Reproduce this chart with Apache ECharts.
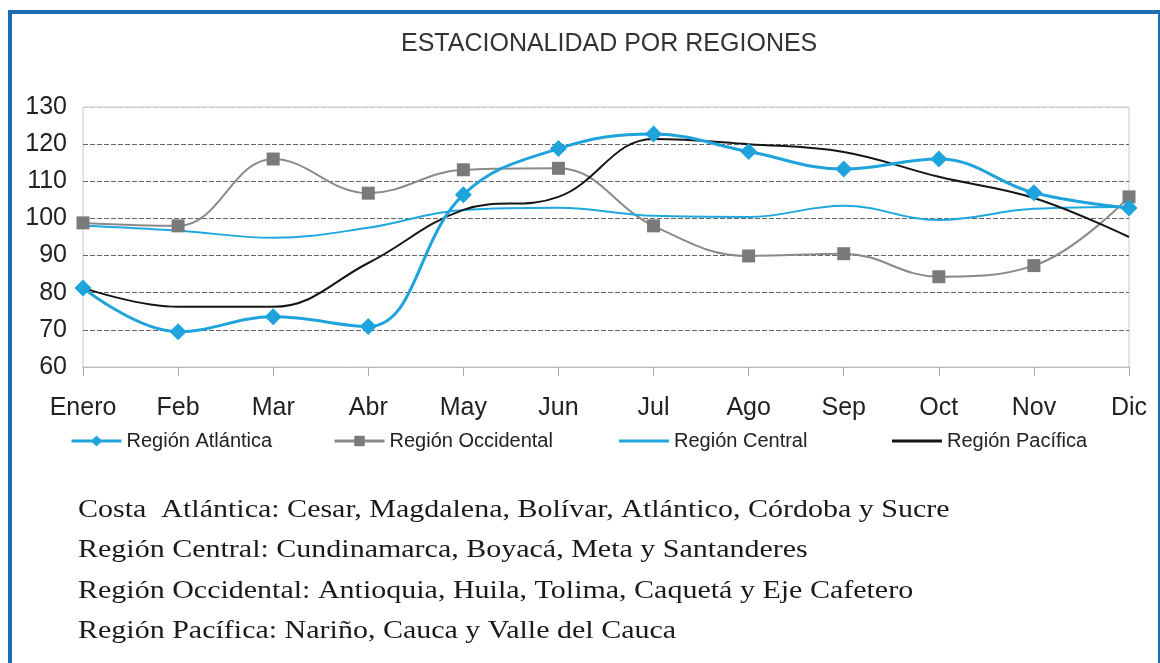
<!DOCTYPE html>
<html>
<head>
<meta charset="utf-8">
<script src="https://cdn.jsdelivr.net/npm/echarts@6/dist/echarts.min.js"></script>
<style>
  html, body { margin: 0; padding: 0; background: #fff; }
  #chart { position: absolute; left: 0; top: 0; width: 1160px; height: 663px; }
  #frame {
    position: absolute; left: 8px; top: 10px; width: 1146px; height: 700px;
    border-top: 4px solid #1f6db1; border-left: 4px solid #1f6db1; border-right: 4px solid #1f6db1;
    pointer-events: none;
  }
</style>
</head>
<body>
<div id="chart"></div>
<div id="frame"></div>
<script>
const months = ['Enero', 'Feb', 'Mar', 'Abr', 'May', 'Jun', 'Jul', 'Ago', 'Sep', 'Oct', 'Nov', 'Dic']
const atlantica = [81.3, 69.5, 73.5, 70.9, 106.4, 118.8, 122.7, 118, 113.3, 116, 106.9, 102.8]
const occidental = [98.8, 98, 116, 106.8, 113.1, 113.5, 98, 89.9, 90.5, 84.3, 87.3, 105.8]
const central = [98, 96.7, 94.8, 97.5, 102.3, 102.9, 100.7, 100.4, 103.4, 99.6, 102.6, 103.1]
const pacifica = [81.3, 76.2, 76.2, 88, 102.3, 105.8, 121.4, 120, 117.9, 111.2, 105.5, 95]
const yTicks = [60, 130, 10]
const notes = [
  'Costa  Atlántica: Cesar, Magdalena, Bolívar, Atlántico, Córdoba y Sucre',
  'Región Central: Cundinamarca, Boyacá, Meta y Santanderes',
  'Región Occidental: Antioquia, Huila, Tolima, Caquetá y Eje Cafetero',
  'Región Pacífica: Nariño, Cauca y Valle del Cauca'
]

const mChart = echarts.init(document.getElementById('chart'), null, { renderer: 'canvas' })
const sans = '"Liberation Sans", Arial, sans-serif'
const serif = '"Liberation Serif", "DejaVu Serif", serif'

const names = ['Región Atlántica', 'Región Occidental', 'Región Central', 'Región Pacífica']
// legenda tipo Excel: cada entrada en su sitio
const legendCfg = [
  { left: 65, icon: null, h: 14, top: 426 },
  { left: 328, icon: null, h: 13, top: 426 },
  { left: 614, icon: 'rect', h: 3, top: 426 },
  { left: 887, icon: 'rect', h: 3, top: 426 }
]

const option = {
  animation: false,
  title: {
    text: 'ESTACIONALIDAD POR REGIONES',
    left: 396,
    top: 27,
    textStyle: { fontFamily: sans, fontSize: 25, fontWeight: 'normal', color: '#333' }
  },
  legend: names.map((n, i) => ({
    data: [legendCfg[i].icon ? { name: n, icon: legendCfg[i].icon } : n],
    left: legendCfg[i].left,
    top: legendCfg[i].top,
    itemWidth: 50,
    itemHeight: legendCfg[i].h,
    itemGap: 0,
    lineStyle: { width: 3 },
    textStyle: { fontFamily: sans, fontSize: 20, color: '#222' }
  })),
  grid: {
    left: 83,
    right: 31,
    top: 107,
    bottom: 296,
    show: true,
    borderColor: '#c8c8c8',
    borderWidth: 1
  },
  xAxis: {
    type: 'category',
    data: months,
    boundaryGap: false,
    axisLine: { lineStyle: { color: '#bbb', width: 1 } },
    axisTick: { show: true, length: 9, lineStyle: { color: '#aaa' } },
    axisLabel: { fontFamily: sans, fontSize: 25, color: '#222', margin: 29 },
    splitLine: { show: false }
  },
  yAxis: {
    type: 'value',
    min: yTicks[0],
    max: yTicks[1],
    interval: yTicks[2],
    axisLine: { show: false },
    axisTick: { show: false },
    axisLabel: { fontFamily: sans, fontSize: 25, color: '#222', margin: 16 },
    splitLine: {
      lineStyle: {
        type: [5, 2],
        color: ['#c8c8c8', '#666', '#666', '#666', '#666', '#666', '#666', '#c8c8c8']
      }
    }
  },
  series: [
    {
      name: names[1],
      type: 'line',
      data: occidental,
      smooth: 0.4,
      symbol: 'rect',
      symbolSize: 13,
      lineStyle: { color: '#8a8a8a', width: 2 },
      itemStyle: { color: '#7a7a7a' }
    },
    {
      name: names[2],
      type: 'line',
      data: central,
      smooth: 0.4,
      symbol: 'none',
      lineStyle: { color: '#1fa8e0', width: 2 },
      itemStyle: { color: '#1fa8e0' }
    },
    {
      name: names[3],
      type: 'line',
      data: pacifica,
      smooth: 0.4,
      symbol: 'none',
      lineStyle: { color: '#151515', width: 2 },
      itemStyle: { color: '#151515' }
    },
    {
      name: names[0],
      type: 'line',
      data: atlantica,
      smooth: 0.4,
      symbol: 'diamond',
      symbolSize: 17,
      lineStyle: { color: '#1fa3dc', width: 3 },
      itemStyle: { color: '#1fa3dc' }
    }
  ],
  graphic: notes.map((t, i) => ({
    type: 'text',
    x: 78,
    y: 510 + i * 40.5,
    scaleX: 1.2,
    style: {
      text: t,
      fontFamily: serif,
      fontSize: 25,
      fill: '#1a1a1a',
      verticalAlign: 'middle'
    }
  }))
}
mChart.setOption(option)
</script>
</body>
</html>
